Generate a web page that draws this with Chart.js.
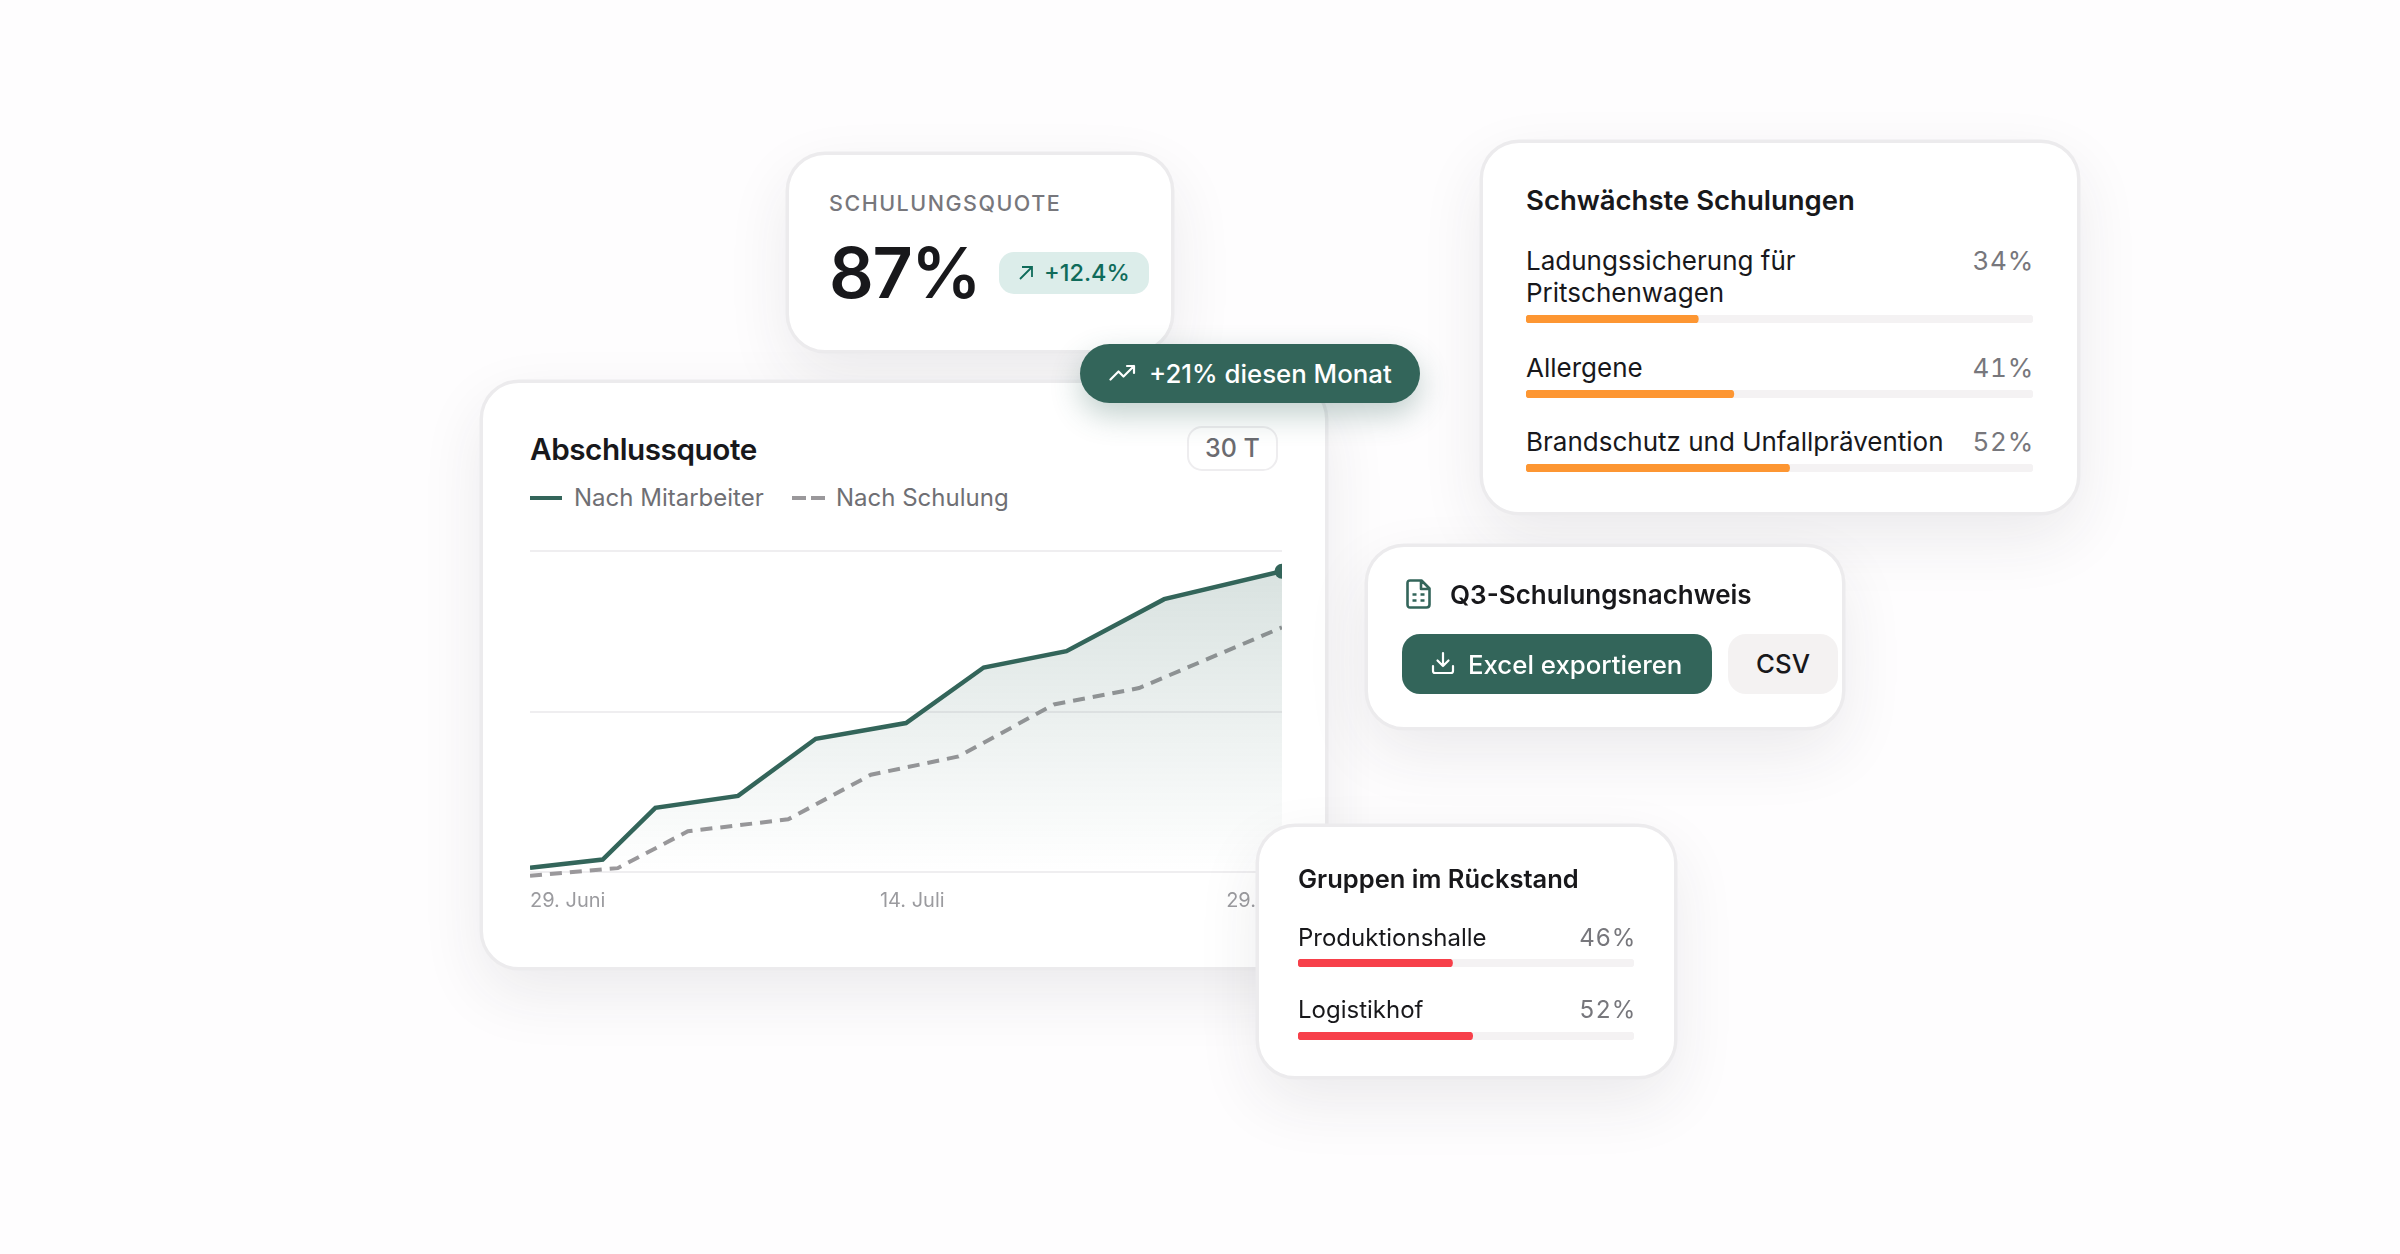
<!DOCTYPE html>
<html lang="de">
<head>
<meta charset="utf-8">
<title>Abschlussquote</title>
<script src="https://cdn.jsdelivr.net/npm/chart.js@4"></script>
<style>
  html, body { margin: 0; padding: 0; }
  body {
    width: 2400px; height: 1254px; position: relative; overflow: hidden;
    background: #fefdfe; font-family: Inter, sans-serif; color: #18181b;
  }
  .card {
    position: absolute; box-sizing: border-box; background: #fff;
    border: 2px solid #ecebed; border-radius: 38px;
    box-shadow: 0 0 0 1.5px #ecebed, 0 24px 64px rgba(45, 40, 60, 0.09);
  }
  .abs { position: absolute; white-space: nowrap; }
  canvas { display: block; }
  .title { font-weight: 600; line-height: 32px; }
  .row { display: flex; justify-content: space-between; align-items: flex-start; }
  .pct { color: #77777c; letter-spacing: 0.03em; margin-right: -1px; font-variant-numeric: tabular-nums; }
  #kpi { left: 787px; top: 153px; width: 386px; height: 199px; }
  #main { left: 481px; top: 381px; width: 846px; height: 588px; }
  #weak { left: 1481px; top: 141px; width: 598px; height: 373px; padding: 41px 44px 0 43px; }
  #weak .row { font-size: 26px; line-height: 32px; margin-top: 28.5px; }
  #weak .name { max-width: 430px; }
  #weak canvas { margin-top: 6px; }
  #weak .row.first { margin-top: 29px; }
  #report { left: 1366px; top: 545px; width: 478px; height: 184px; }
  #groups { left: 1257px; top: 825px; width: 419px; height: 253px; padding: 35.5px 39px 0 39px; }
  #groups .row { font-size: 24px; line-height: 30px; margin-top: 28px; }
  #groups .row.first { margin-top: 28px; }
  #groups canvas { margin-top: 6.5px; }
  #pill {
    position: absolute; left: 1080px; top: 344px; width: 340px; height: 59px;
    background: #33655a; border-radius: 30px; color: #fff;
    box-shadow: 0 12px 30px rgba(51, 101, 90, 0.3);
  }
  .btn { position: absolute; border-radius: 18px; top: 87px; height: 60px; font-size: 25.8px; font-weight: 550; }
</style>
</head>
<body>

<div class="card" id="kpi">
  <div class="abs" style="left:40px;top:33px;font-size:21.5px;line-height:30px;letter-spacing:0.07em;color:#77777c;font-weight:500">SCHULUNGSQUOTE</div>
  <div class="abs" style="left:40px;top:73px;font-size:70px;line-height:90px;font-weight:600;letter-spacing:-0.02em">87%</div>
  <div class="abs" style="left:210px;top:97px;width:150px;height:42px;background:#dcedea;border-radius:15px"></div>
  <svg class="abs" style="left:229px;top:110px" width="16" height="16" viewBox="0 0 16 16" fill="none" stroke="#0f6b5a" stroke-width="1.8"><path d="M2 14 L14 2 M4 2 H14 V12"/></svg>
  <div class="abs" style="left:255px;top:102px;font-size:23.5px;line-height:32px;font-weight:500;color:#0f6b5a">+12.4%</div>
</div>

<div class="card" id="main">
  <div class="abs" style="left:47px;top:47px;font-size:29.7px;line-height:38px;font-weight:600;letter-spacing:-0.015em">Abschlussquote</div>
  <div class="abs" style="left:704px;top:43px;width:91px;height:45px;box-sizing:border-box;border:2px solid #eeedef;border-radius:15px;font-size:25px;line-height:41px;text-align:center;color:#6b6b70;font-weight:500">30 T</div>
  <svg class="abs" style="left:47px;top:113px" width="32" height="4"><line x1="0" y1="2" x2="32" y2="2" stroke="#33655a" stroke-width="4"/></svg>
  <div class="abs" id="legendA" style="left:91px;top:100px;font-size:24px;line-height:30px;color:#6f6f74"></div>
  <svg class="abs" style="left:309px;top:113px" width="33" height="4"><line x1="0" y1="2" x2="33" y2="2" stroke="#9a989b" stroke-width="4" stroke-dasharray="14 5"/></svg>
  <div class="abs" id="legendB" style="left:353px;top:100px;font-size:24px;line-height:30px;color:#6f6f74"></div>
  <canvas class="abs" id="trend" width="772" height="395" style="left:47px;top:152px"></canvas>
</div>

<div class="card" id="weak">
  <div class="title" style="font-size:27.5px">Schwächste Schulungen</div>
  <div id="weakRows"></div>
</div>

<div class="card" id="report">
  <svg class="abs" style="left:38px;top:32px" width="25" height="30" viewBox="0 0 25 30" fill="none" stroke="#33655a" stroke-width="2.6" stroke-linejoin="round"><path d="M4 1.5 H15.5 L23.5 9.5 V25.5 Q23.5 28.5 20.5 28.5 H4 Q1.5 28.5 1.5 25.5 V4 Q1.5 1.5 4 1.5 Z M15 1.5 V10 H23.5 M6.5 15.5 H10.5 M14.5 15.5 H18.5 M6.5 21.5 H10.5 M14.5 21.5 H18.5"/></svg>
  <div class="abs title" style="left:82px;top:32px;font-size:26px">Q3-Schulungsnachweis</div>
  <div class="btn" style="left:34px;width:310px;background:#33655a;color:#fff">
    <svg class="abs" style="left:29px;top:17px" width="24" height="24" viewBox="0 0 24 24" fill="none" stroke="#fff" stroke-width="2.2" stroke-linecap="round" stroke-linejoin="round"><path d="M2 15 V20 Q2 22 4 22 H20 Q22 22 22 20 V15 M12 2 V15 M6.5 9.5 L12 15 L17.5 9.5"/></svg>
    <div class="abs" style="left:66px;top:15px;line-height:32px">Excel exportieren</div>
  </div>
  <div class="btn" style="left:360px;width:110px;background:#f4f2f2;text-align:center;line-height:60px">CSV</div>
</div>

<div class="card" id="groups">
  <div class="title" style="font-size:25.5px">Gruppen im Rückstand</div>
  <div id="groupRows"></div>
</div>

<div id="pill">
  <svg class="abs" style="left:29px;top:20px" width="27" height="18" viewBox="0 0 27 18" fill="none" stroke="#fff" stroke-width="2.2" stroke-linecap="round" stroke-linejoin="round"><path d="M1.5 15.5 L9.5 7.5 L14.5 12.5 L25 2 M18 2 H25 V9"/></svg>
  <div class="abs" style="left:69px;top:14px;font-size:25.8px;line-height:32px;font-weight:550">+21% diesen Monat</div>
</div>

<script>
// series names
const seriesNames = ['Nach Mitarbeiter', 'Nach Schulung']

// line chart, x is days since 29. Juni
const employeeDays = [0, 2.9, 5, 8.3, 11.4, 15, 18.1, 21.4, 25.3, 30]
const employeeRates = [1.3, 3.9, 20, 23.7, 41.5, 46.4, 63.7, 68.8, 85, 93.7]
const courseDays = [0, 3.5, 6.3, 10.3, 13.6, 17.1, 20.9, 24.3, 30]
const courseRates = [-1.2, 1.2, 12.7, 16.4, 30.3, 36, 52.2, 57.3, 76.2]
const tickDays = [0, 15.25, 30.5]
const tickLabels = ['29. Juni', '14. Juli', '29. Juli']
const gridValues = [0, 50, 100]

// progress rows
const weakNames = ['Ladungssicherung für Pritschenwagen', 'Allergene', 'Brandschutz und Unfallprävention']
const weakValues = [34, 41, 52]
const groupNames = ['Produktionshalle', 'Logistikhof']
const groupValues = [46, 52]

const green = '#33655a'
document.getElementById('legendA').textContent = seriesNames[0]
document.getElementById('legendB').textContent = seriesNames[1]

function toPoints(xs, ys) {
  return xs.map((x, i) => ({ x: x, y: ys[i] }))
}

new Chart(document.getElementById('trend'), {
  type: 'line',
  data: {
    datasets: [
      {
        label: seriesNames[0],
        data: toPoints(employeeDays, employeeRates),
        borderColor: green,
        borderWidth: 4.5,
        tension: 0,
        fill: 'origin',
        clip: { left: 0, right: 0, top: 10, bottom: 10 },
        backgroundColor: (ctx) => {
          const area = ctx.chart.chartArea
          if (!area) return 'transparent'
          const g = ctx.chart.ctx.createLinearGradient(0, area.top, 0, area.bottom)
          g.addColorStop(0, 'rgba(51, 101, 90, 0.2)')
          g.addColorStop(1, 'rgba(51, 101, 90, 0)')
          return g
        },
        pointRadius: (ctx) => (ctx.dataIndex === employeeDays.length - 1 ? 7.5 : 0),
        pointBackgroundColor: green,
        pointBorderWidth: 0,
      },
      {
        label: seriesNames[1],
        data: toPoints(courseDays, courseRates),
        borderColor: '#9a989b',
        borderWidth: 4,
        borderDash: [12, 8],
        tension: 0,
        fill: false,
        clip: { left: 0, right: 0, top: 10, bottom: 10 },
        pointRadius: 0,
      },
    ],
  },
  options: {
    responsive: false,
    animation: false,
    // extra room on the right: the last tick label hangs past the plot, under the Gruppen card
    layout: { autoPadding: false, padding: { top: 16, left: 0, right: 20, bottom: 0 } },
    plugins: { legend: { display: false }, tooltip: { enabled: false } },
    scales: {
      x: {
        type: 'linear',
        min: 0,
        max: 30,
        afterBuildTicks: (axis) => { axis.ticks = tickDays.map((v) => ({ value: v })) },
        afterFit: (axis) => { axis.height = 58 },
        grid: { drawOnChartArea: false, drawTicks: true, tickLength: 17, tickColor: 'transparent', tickWidth: 0 },
        border: { display: false },
        ticks: {
          align: 'inner',
          maxRotation: 0,
          autoSkip: false,
          padding: 0,
          color: '#9b9b9f',
          font: { family: 'Inter', size: 20 },
          callback: (value) => tickLabels[tickDays.indexOf(value)],
        },
      },
      y: {
        min: 0,
        max: 100,
        display: true,
        afterBuildTicks: (axis) => { axis.ticks = gridValues.map((v) => ({ value: v })) },
        afterFit: (axis) => { axis.width = 0 },
        grid: { color: '#efeef0', lineWidth: 2, drawTicks: false },
        border: { display: false },
        ticks: { display: false },
      },
    },
  },
})

function drawBar(canvas, value, color) {
  new Chart(canvas, {
    type: 'bar',
    data: {
      labels: [''],
      datasets: [
        { data: [value], backgroundColor: color, borderRadius: 4, borderSkipped: false },
        { data: [100], backgroundColor: '#f4f2f3', borderRadius: 4, borderSkipped: false },
      ],
    },
    options: {
      indexAxis: 'y',
      responsive: false,
      animation: false,
      grouped: false,
      barPercentage: 1,
      categoryPercentage: 1,
      plugins: { legend: { display: false }, tooltip: { enabled: false } },
      scales: {
        x: { display: false, min: 0, max: 100 },
        y: { display: false },
      },
    },
  })
}

function addRows(target, names, values, color, width) {
  names.forEach((name, i) => {
    const row = document.createElement('div')
    row.className = i === 0 ? 'row first' : 'row'
    const label = document.createElement('div')
    label.className = 'name'
    label.textContent = name
    const pct = document.createElement('div')
    pct.className = 'pct'
    pct.textContent = values[i] + '%'
    row.append(label, pct)
    const canvas = document.createElement('canvas')
    canvas.width = width
    canvas.height = 8
    target.append(row, canvas)
    drawBar(canvas, values[i], color)
  })
}

addRows(document.getElementById('weakRows'), weakNames, weakValues, '#fd9632', 507)
addRows(document.getElementById('groupRows'), groupNames, groupValues, '#f7404a', 336)
</script>
</body>
</html>
